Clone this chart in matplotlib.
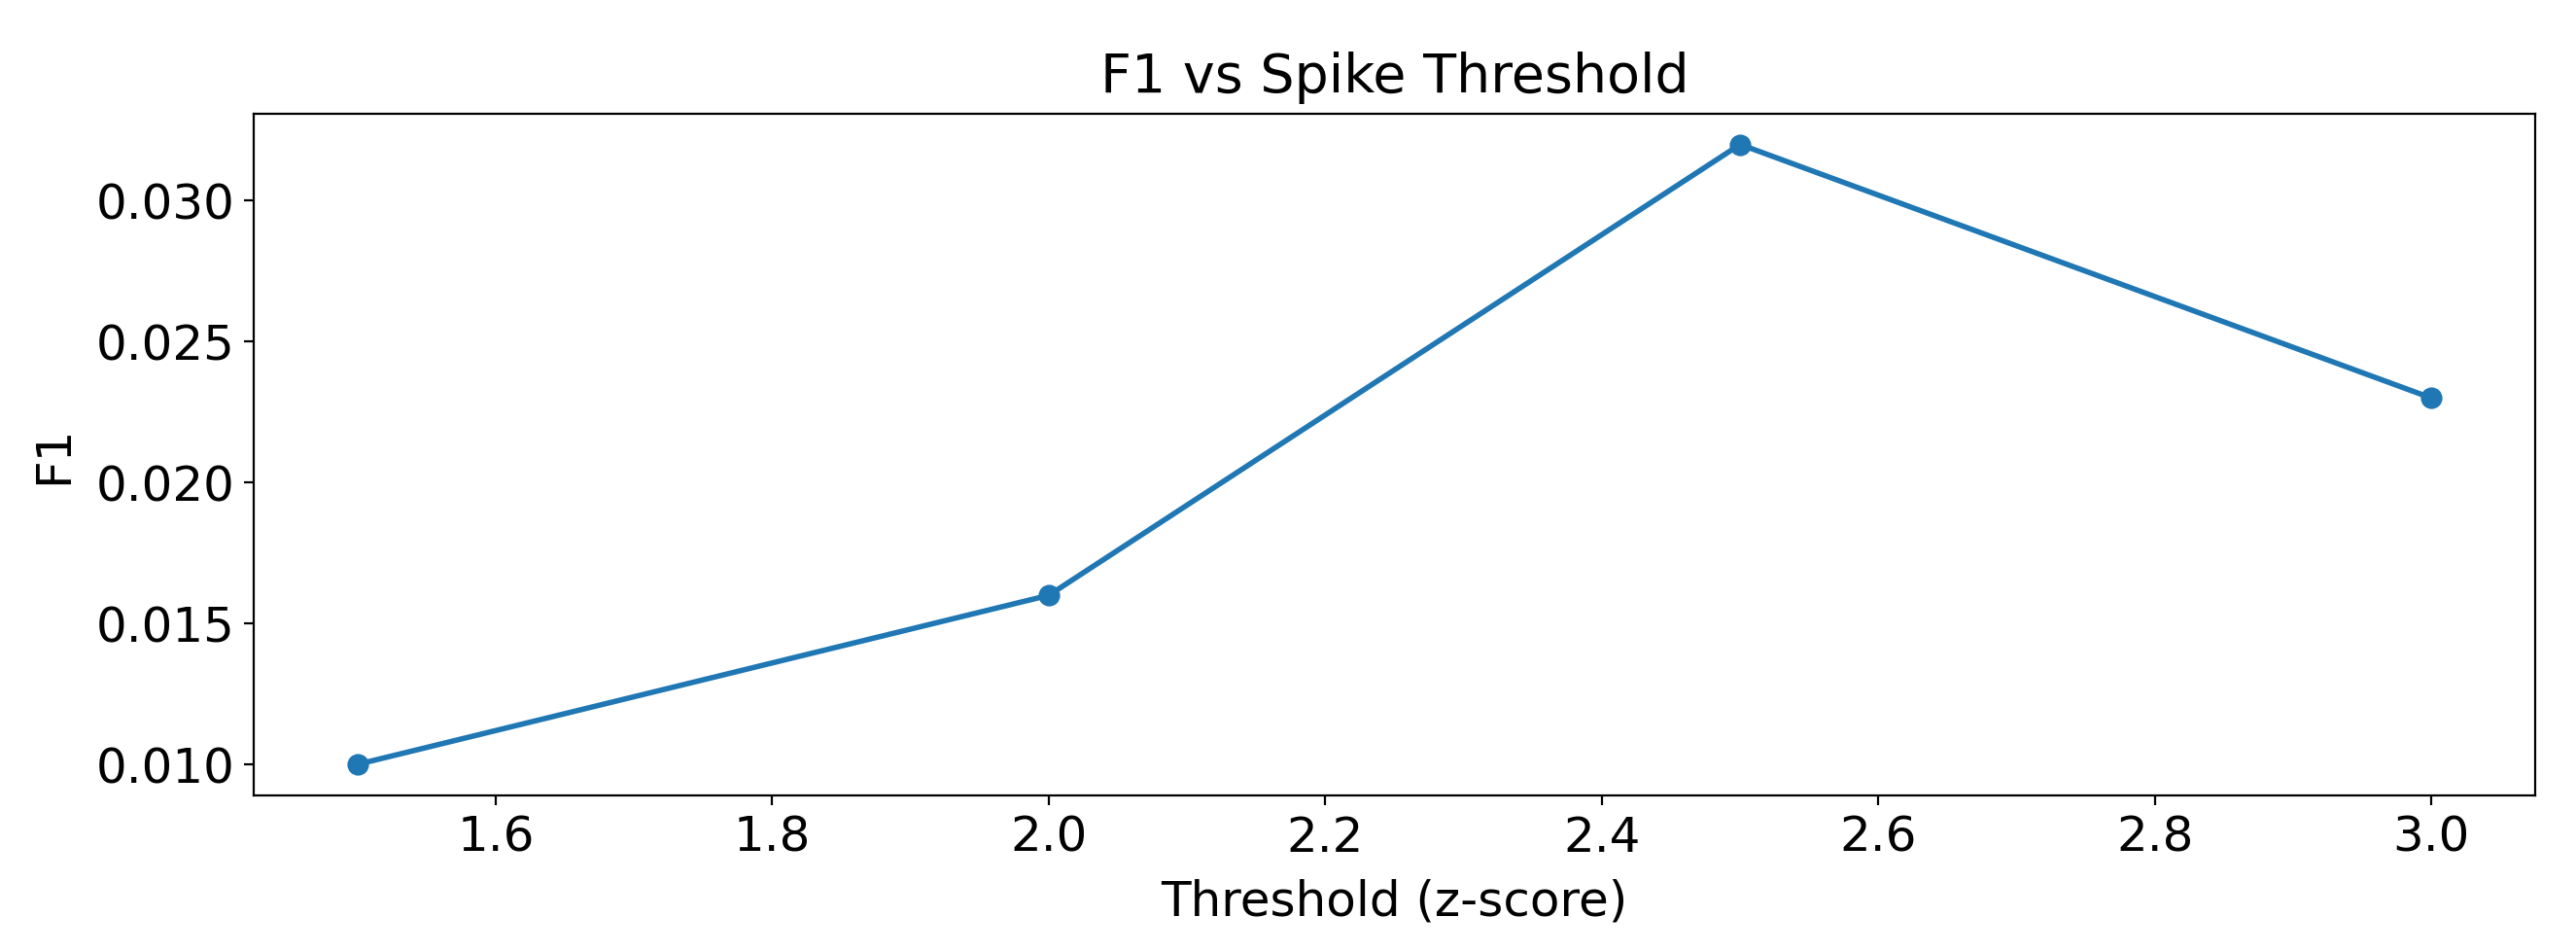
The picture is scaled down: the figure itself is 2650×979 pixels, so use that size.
import matplotlib
matplotlib.use("Agg")
import matplotlib.pyplot as plt

thresholds = [1.5, 2.0, 2.5, 3.0]
f1_scores = [0.010, 0.016, 0.032, 0.023]

W, H, DPI = 2650, 979, 200
fig = plt.figure(figsize=(W / DPI, (H + 0.4) / DPI), dpi=DPI)
ax = fig.add_axes([261 / W, 1 - 818 / H, (2608 - 261) / W, (818 - 117) / H])
ax.plot(thresholds, f1_scores, marker="o", markersize=7, color="#1f77b4", linewidth=2)
ax.set_title("F1 vs Spike Threshold", fontsize=20, pad=8)
ax.set_xlabel("Threshold (z-score)", fontsize=18, labelpad=6.5)
ax.set_ylabel("F1", fontsize=18, labelpad=7)
ax.tick_params(labelsize=18)
fig.savefig("out.png", dpi=DPI)
